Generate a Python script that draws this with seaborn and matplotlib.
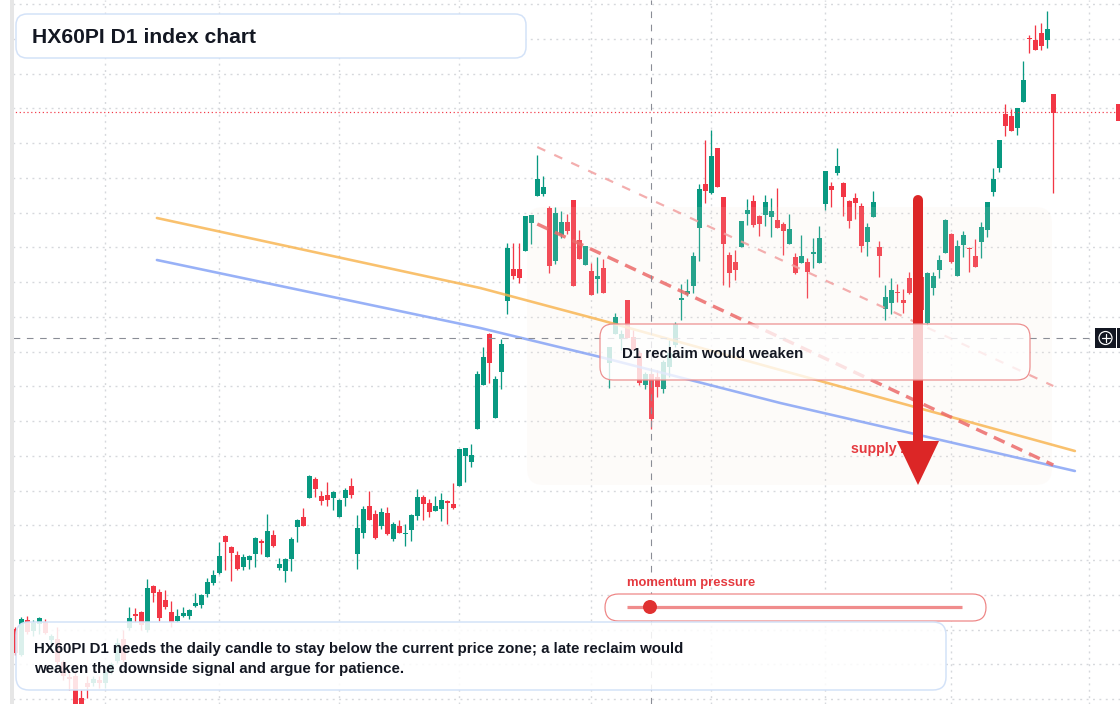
import numpy as np
import pandas as pd
import matplotlib
matplotlib.use("Agg")
import matplotlib.pyplot as plt
import matplotlib.transforms as mtransforms
from matplotlib.patches import FancyBboxPatch, Rectangle, Polygon, Circle
import seaborn as sns

# =========================
# DATA (daily candles)
# =========================
OPEN = [371, 345, 380, 369, 376, 378, 360, 361, 338, 323, 324, 302, 317, 317, 320, 317, 328, 339, 361, 372,
        386, 388, 370, 414, 408, 400, 388, 379, 384, 384, 394, 395, 406, 417, 427, 464, 453, 445, 433, 440,
        446, 459, 443, 465, 432, 429, 441, 473, 483, 502, 521, 504, 505, 502, 483, 502, 514, 446, 467, 494,
        486, 474, 487, 461, 474, 466, 470, 484, 503, 497, 489, 491, 499, 496, 514, 544, 538, 571, 615, 666,
        582, 628, 699, 731, 731, 749, 777, 804, 806, 792, 739, 765, 778, 800, 760, 735, 729, 721, 732, 637,
        666, 661, 700, 663, 647, 615, 626, 623, 611, 633, 655, 700, 706, 714, 772, 816, 807, 852, 803, 745,
        738, 753, 786, 799, 784, 785, 783, 780, 776, 756, 743, 737, 738, 746, 737, 796, 814, 827, 817, 799,
        802, 794, 758, 783, 753, 691, 697, 708, 700, 722, 700, 723, 677, 712, 730, 747, 766, 724, 755, 752,
        744, 758, 770, 808, 832, 886, 884, 872, 898, 962, 960, 967, 960, 906]
HIGH = [373, 383, 384, 380, 383, 381, 366, 373, 340, 330, 328, 310, 324, 324, 324, 330, 338, 362, 370, 393,
        392, 389, 421, 415, 411, 410, 399, 391, 393, 391, 407, 406, 422, 430, 458, 465, 454, 449, 446, 445,
        463, 461, 486, 470, 442, 442, 463, 481, 492, 525, 523, 509, 518, 509, 501, 512, 522, 485, 494, 509,
        490, 492, 493, 478, 480, 476, 486, 511, 505, 501, 504, 507, 500, 517, 551, 552, 556, 629, 653, 667,
        624, 661, 757, 757, 757, 784, 785, 845, 824, 794, 793, 789, 786, 800, 770, 754, 737, 743, 741, 653,
        687, 670, 700, 670, 650, 628, 628, 630, 640, 660, 678, 716, 721, 748, 816, 860, 870, 852, 803, 748,
        750, 779, 801, 805, 785, 805, 802, 812, 778, 786, 747, 765, 742, 762, 774, 829, 818, 852, 818, 800,
        807, 797, 777, 809, 759, 715, 722, 716, 711, 728, 715, 730, 728, 728, 745, 781, 767, 760, 769, 753,
        761, 778, 798, 832, 860, 896, 891, 892, 939, 965, 975, 977, 989, 906]
LOW = [345, 344, 366, 364, 366, 366, 356, 336, 320, 310, 294, 288, 302, 314, 312, 312, 326, 337, 338, 370,
       378, 370, 368, 398, 379, 391, 373, 378, 383, 381, 393, 392, 403, 415, 426, 430, 419, 430, 430, 431,
       433, 446, 443, 453, 430, 418, 429, 458, 474, 502, 503, 495, 494, 490, 483, 494, 502, 431, 462, 480,
       461, 471, 465, 459, 467, 454, 459, 480, 480, 483, 489, 479, 476, 491, 514, 518, 533, 571, 615, 617,
       582, 611, 686, 721, 717, 749, 756, 804, 804, 727, 736, 762, 766, 714, 741, 735, 705, 707, 707, 612,
       666, 650, 662, 650, 615, 611, 571, 603, 607, 623, 653, 680, 704, 707, 739, 797, 806, 813, 715, 713,
       720, 753, 775, 773, 764, 774, 763, 772, 745, 756, 726, 737, 702, 732, 737, 790, 793, 825, 784, 772,
       781, 748, 744, 783, 723, 680, 686, 698, 687, 706, 682, 688, 675, 705, 722, 747, 737, 724, 743, 728,
       733, 742, 763, 804, 828, 864, 869, 865, 898, 947, 950, 950, 952, 807]
CLOSE = [347, 381, 368, 377, 382, 367, 364, 338, 324, 321, 296, 290, 313, 321, 317, 328, 336, 357, 340, 382,
         384, 375, 412, 407, 382, 393, 378, 384, 387, 390, 397, 405, 418, 425, 444, 458, 447, 431, 443, 444,
         462, 457, 469, 454, 436, 441, 461, 480, 474, 524, 511, 499, 500, 508, 500, 510, 505, 472, 491, 480,
         462, 488, 466, 476, 467, 467, 485, 503, 496, 488, 494, 500, 497, 492, 551, 552, 545, 626, 643, 637,
         621, 656, 752, 724, 722, 784, 785, 821, 813, 734, 787, 778, 769, 714, 741, 754, 705, 724, 707, 653,
         683, 666, 662, 650, 617, 626, 581, 613, 638, 647, 676, 702, 709, 744, 811, 809, 844, 813, 756, 727,
         730, 779, 790, 775, 776, 798, 789, 772, 769, 771, 727, 744, 728, 748, 762, 829, 810, 834, 803, 779,
         797, 754, 773, 798, 744, 703, 710, 707, 697, 707, 710, 690, 727, 724, 740, 780, 738, 754, 765, 751,
         733, 773, 798, 821, 860, 874, 869, 892, 920, 961, 950, 954, 971, 887]

# moving-average style guide lines (candle index, price)
MA_X = [23.6, 77.5, 97.5, 127.5, 176.6]
ORANGE_MA = [782, 712, 680, 630, 549]
BLUE_MA = [740, 672, 643, 597, 529]

# resistance trend lines
TREND_X = [87.0, 173.0]
TREND_MAIN = [776, 535]
TREND_UPPER = [853, 614]

# month grid (candle index) and price grid
GRID_X = [15, 34, 54, 74, 96, 116, 135, 156, 179]
CROSS_IDX = 106
CROSS_PRICE = 662
LAST_PRICE = 888

GREEN = "#089981"
RED = "#f23645"
INK = "#131722"

# =========================
# STYLE CONFIG
# =========================
sns.set_theme(style="white")
plt.rcParams['font.family'] = ['Liberation Sans', 'DejaVu Sans']

W, H = 1120, 704
fig = plt.figure(figsize=(W / 100, H / 100), dpi=100)
ax = fig.add_axes([0, 0, 1, 1])
ax.set_xlim(-2.55, 184.12)
ax.set_ylim(296, 1000)
for s in ax.spines.values():
    s.set_visible(False)

# pixel coordinates (origin top-left) for the overlay widgets
pix = mtransforms.Affine2D().scale(1 / W, -1 / H).translate(0, 1) + fig.transFigure
PX = 0.72  # one pixel in points

ax.set_xticks(GRID_X)
ax.set_yticks(np.arange(996, 295, -34.75))
ax.tick_params(length=0, labelbottom=False, labelleft=False)
ax.grid(True, color="#d6d8dc", linestyle=(0, (1.4, 3.2)), linewidth=1.0)
ax.set_axisbelow(True)

# =========================
# CANDLES
# =========================
df = pd.DataFrame({"open": OPEN, "high": HIGH, "low": LOW, "close": CLOSE})
df["idx"] = np.arange(len(df))
colors = np.where(df["close"] >= df["open"], GREEN, RED)
body_lo = df[["open", "close"]].min(axis=1)
body_h = (df["close"] - df["open"]).abs().clip(lower=1.5)

ax.vlines(df["idx"], df["low"], df["high"], colors=colors, linewidth=1.3 * PX, zorder=2)
ax.bar(df["idx"], body_h, bottom=body_lo, width=0.78, color=colors, linewidth=0, zorder=2)

# supply zone overlay
ax.add_patch(FancyBboxPatch((527, 207), 525, 278, boxstyle="round,pad=0,rounding_size=16",
                            transform=pix, facecolor="#f6e7d8", edgecolor="none", alpha=0.13, zorder=3))

# guide lines
sns.lineplot(x=MA_X, y=ORANGE_MA, ax=ax, color="#f8b24a", linewidth=2.6 * PX, alpha=0.8, zorder=4)
sns.lineplot(x=MA_X, y=BLUE_MA, ax=ax, color="#7f9ef5", linewidth=2.6 * PX, alpha=0.8, zorder=4)
ax.plot(TREND_X, TREND_MAIN, color="#ec6a6a", linewidth=3.4 * PX, alpha=0.85,
        linestyle=(0, (3.5, 2.2)), zorder=4)
ax.plot(TREND_X, TREND_UPPER, color="#f2a0a0", linewidth=2.2 * PX, alpha=0.85,
        linestyle=(0, (4, 4.5)), zorder=4)

# crosshair + last price
ax.axvline(CROSS_IDX, color="#8a8d96", linewidth=1.1 * PX, linestyle=(0, (6, 6)), zorder=5)
ax.axhline(CROSS_PRICE, color="#8a8d96", linewidth=1.1 * PX, linestyle=(0, (6, 6)), zorder=5)
ax.axhline(LAST_PRICE, color=RED, linewidth=1.2 * PX, linestyle=(0, (1, 2.2)), zorder=5)

# =========================
# ANNOTATIONS
# =========================
ax.text(851, 449, "supply zone", transform=pix, color="#e5393f", fontsize=10.2,
        fontweight="bold", va="center", ha="left", zorder=6)

ax.plot([918, 918], [200, 442], transform=pix, color="#dc2626", linewidth=10 * PX,
        solid_capstyle="round", zorder=6.5)
ax.add_patch(Polygon([(897, 441), (939, 441), (918, 485)], closed=True, transform=pix,
                     facecolor="#dc2626", edgecolor="none", zorder=6.5))

ax.add_patch(FancyBboxPatch((600, 324), 430, 56, boxstyle="round,pad=0,rounding_size=13",
                            transform=pix, facecolor="white", alpha=0.78, edgecolor="none", zorder=7))
ax.add_patch(FancyBboxPatch((600, 324), 430, 56, boxstyle="round,pad=0,rounding_size=13",
                            transform=pix, facecolor="none", edgecolor="#ec8d8d", linewidth=1.2 * PX, zorder=7))
ax.text(622, 354.5, "D1 reclaim would weaken", transform=pix, color=INK, fontsize=10.8,
        fontweight="bold", va="center", ha="left", zorder=8)

# momentum slider
ax.text(627, 583, "momentum pressure", transform=pix, color="#e5393f", fontsize=9.4,
        fontweight="bold", va="center", ha="left", zorder=8)
ax.add_patch(FancyBboxPatch((605, 594), 381, 27, boxstyle="round,pad=0,rounding_size=13.5",
                            transform=pix, facecolor="white", edgecolor="#ee8484",
                            linewidth=1.2 * PX, zorder=7))
ax.plot([627, 962], [607, 607], transform=pix, color="#f08c8c", linewidth=3.2 * PX,
        solid_capstyle="butt", zorder=8)
ax.add_patch(Circle((650, 607), 7, transform=pix, facecolor="#e03131", edgecolor="none", zorder=9))

# bottom note
ax.add_patch(FancyBboxPatch((16, 622), 930, 68, boxstyle="round,pad=0,rounding_size=13",
                            transform=pix, facecolor="white", alpha=0.86, edgecolor="none", zorder=7))
ax.add_patch(FancyBboxPatch((16, 622), 930, 68, boxstyle="round,pad=0,rounding_size=13",
                            transform=pix, facecolor="none", edgecolor="#d3e2f8", linewidth=1.5 * PX, zorder=7))
ax.text(34, 648.5, "HX60PI D1 needs the daily candle to stay below the current price zone; a late reclaim would",
        transform=pix, color=INK, fontsize=10.8, fontweight="bold", va="center", ha="left", zorder=8)
ax.text(34, 668.5, "weaken the downside signal and argue for patience.",
        transform=pix, color=INK, fontsize=10.8, fontweight="bold", va="center", ha="left", zorder=8)

# title
ax.add_patch(FancyBboxPatch((16, 14), 510, 44, boxstyle="round,pad=0,rounding_size=11",
                            transform=pix, facecolor="white", edgecolor="#d3e2f8",
                            linewidth=1.5 * PX, zorder=7))
ax.text(32, 37.5, "HX60PI D1 index chart", transform=pix, color=INK, fontsize=15.2,
        fontweight="bold", va="center", ha="left", zorder=8)

# price-scale stubs on the right edge
ax.add_patch(Rectangle((1116, 104), 6, 17, transform=pix, facecolor=RED, edgecolor="none", zorder=9))
ax.add_patch(Rectangle((1095, 328), 21, 20, transform=pix, facecolor=INK, edgecolor="none", zorder=9))
ax.add_patch(Rectangle((1117, 328), 5, 20, transform=pix, facecolor=INK, edgecolor="none", zorder=9))
ax.add_patch(Circle((1105.5, 338), 6.5, transform=pix, facecolor="none", edgecolor="white",
                    linewidth=1.2 * PX, zorder=10))
ax.plot([1101.5, 1109.5], [338, 338], transform=pix, color="white", linewidth=1.2 * PX, zorder=10)
ax.plot([1105.5, 1105.5], [334, 342], transform=pix, color="white", linewidth=1.2 * PX, zorder=10)

# left edge strip
ax.add_patch(Rectangle((0, 0), 10, H, transform=pix, facecolor="white", edgecolor="none", zorder=10))
ax.add_patch(Rectangle((10, 0), 4, H, transform=pix, facecolor="#e6e6e6", edgecolor="none", zorder=10))

fig.savefig("out.png", dpi=100)
